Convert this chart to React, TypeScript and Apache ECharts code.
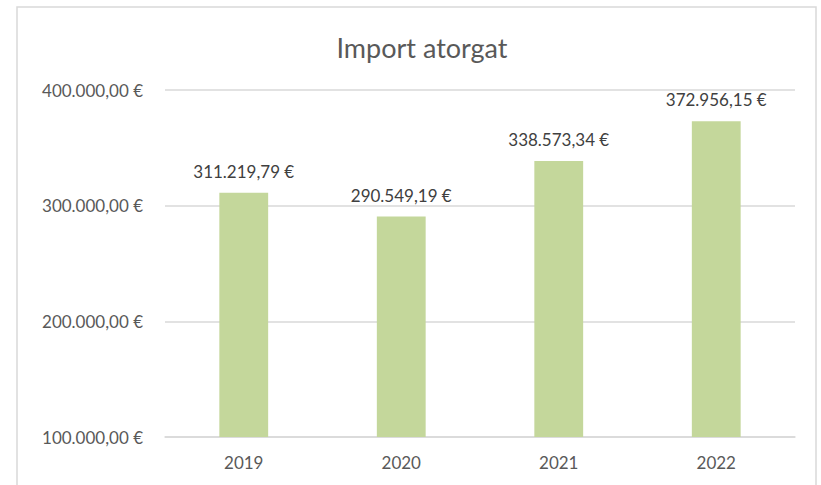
import React, { useEffect, useRef } from "react";
import * as echarts from "echarts";

const categories = ["2019", "2020", "2021", "2022"];
const values = [311219.79, 290549.19, 338573.34, 372956.15];
const yMin = 100000;
const yMax = 400000;
const yInterval = 100000;

const fmt = (v: number) => {
  const [i, d] = v.toFixed(2).split(".");
  return i.replace(/\B(?=(\d{3})+(?!\d))/g, ".") + "," + d + " €";
};

export default function App() {
  const ref = useRef<HTMLDivElement>(null);
  useEffect(() => {
    document.body.style.margin = "0";
    const chart = echarts.init(ref.current!, null, { renderer: "svg" });
    const font = "Lato, 'Noto Sans', sans-serif";
    chart.setOption({
      animation: false,
      backgroundColor: "#ffffff",
      textStyle: { fontFamily: font },
      title: {
        text: "Import atorgat",
        left: 417,
        textAlign: "center",
        top: 29,
        textStyle: { fontFamily: font, fontSize: 27, fontWeight: "normal", color: "#595959" },
      },
      graphic: [
        {
          type: "rect",
          shape: { x: 17, y: 7, width: 799, height: 500 },
          style: { fill: "none", stroke: "#D9D9D9", lineWidth: 1.5 },
          silent: true,
        },
      ],
      grid: { left: 165, right: 26, top: 90, bottom: 48, containLabel: false },
      xAxis: {
        type: "category",
        data: categories,
        axisLine: { lineStyle: { color: "#D9D9D9", width: 1.5 } },
        axisTick: { show: false },
        axisLabel: { color: "#595959", fontSize: 17, margin: 17, fontFamily: font },
      },
      yAxis: {
        type: "value",
        min: yMin,
        max: yMax,
        interval: yInterval,
        axisLine: { show: false },
        axisTick: { show: false },
        splitLine: { lineStyle: { color: "#D9D9D9", width: 1.5 } },
        axisLabel: {
          color: "#595959",
          fontSize: 17,
          margin: 22,
          fontFamily: font,
          formatter: (v: number) => fmt(v),
        },
      },
      series: [
        {
          type: "bar",
          data: values,
          barWidth: "31%",
          itemStyle: { color: "#C4D79B" },
          label: {
            show: true,
            position: "top",
            distance: 13,
            color: "#404040",
            fontSize: 17,
            fontFamily: font,
            formatter: (p: any) => fmt(p.value),
          },
        },
      ],
    });
    return () => chart.dispose();
  }, []);
  return <div ref={ref} style={{ position: "absolute", left: 0, top: 0, width: 821, height: 485 }} />;
}
